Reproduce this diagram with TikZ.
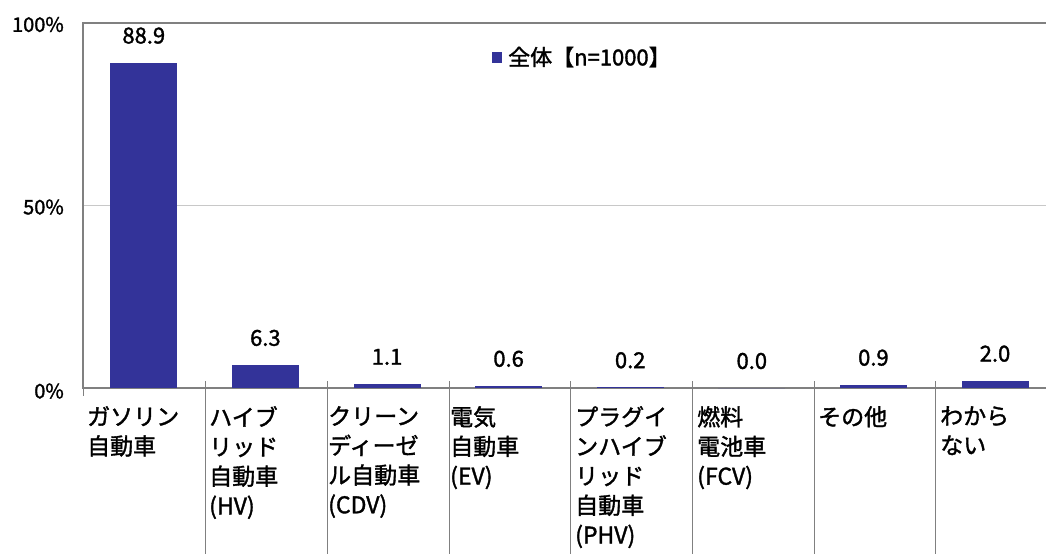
\documentclass[tikz,border=0pt]{standalone}
\usepackage{fontspec}
\setmainfont{Noto Sans CJK JP}[FakeBold=1.5]
\definecolor{barblue}{RGB}{51,51,153}
\definecolor{axisgray}{RGB}{128,128,128}
\definecolor{gridgray}{RGB}{200,200,200}
\begin{document}
\begin{tikzpicture}[x=1pt,y=-1pt,
  vallabel/.style={font=\fontsize{22}{24}\selectfont, inner sep=0pt, anchor=center},
  axlabel/.style={font=\fontsize{20}{22}\selectfont, inner sep=0pt, anchor=east},
  catlabel/.style={font=\fontsize{23}{29.5}\selectfont, inner sep=0pt, anchor=north west, align=left},
  divider/.style={draw=axisgray, line width=0.7pt},
  frame/.style={draw=axisgray, line width=1.6pt}]
\useasboundingbox (0,0) rectangle (1046,554);
\fill[white] (0,0) rectangle (1046,554);
% gridline at 50%
\draw[gridgray, line width=1pt] (83,205) -- (1046,205);
% category dividers
\foreach \x in {205,327,449,570,692,814,935}
  \draw[divider] (\x,381) -- (\x,554);
\draw[divider] (83,388) -- (83,396);
% frame / axes
\draw[frame] (1046,23) -- (83,23) -- (83,388) -- (1046,388);
% bars and value labels
\foreach \i/\v in {0/88.9, 1/6.3, 2/1.1, 3/0.6, 4/0.2, 5/0.0, 6/0.9, 7/2.0} {
  \pgfmathsetmacro\cx{83+121.6*(\i+0.5)}
  \pgfmathsetmacro\bt{388-3.66*\v}
  \fill[barblue] (\cx-33.5,\bt) rectangle (\cx+33.5,388);
  \node[vallabel] (v\i) at (\cx,\bt-27) {\v};
}
% axis labels
\node[axlabel] (y100) at (64,24.5) {100\%};
\node[axlabel] (y50) at (64,207) {50\%};
\node[axlabel] (y0) at (64,391) {0\%};
% legend
\fill[barblue] (492,52) rectangle (502,63);
\node[font=\fontsize{22}{24}\selectfont, inner sep=0pt, anchor=west] (leg) at (508,57) {全体【n=1000】};
% category labels
\node[catlabel] (c0) at (87,406) {ガソリン\\自動車};
\node[catlabel] (c1) at (209,406) {ハイブ\\リッド\\自動車\\(HV)};
\node[catlabel] (c2) at (328,406) {クリーン\\ディーゼ\\ル自動車\\(CDV)};
\node[catlabel] (c3) at (450,406) {電気\\自動車\\(EV)};
\node[catlabel] (c4) at (575,406) {プラグイ\\ンハイブ\\リッド\\自動車\\(PHV)};
\node[catlabel] (c5) at (697,406) {燃料\\電池車\\(FCV)};
\node[catlabel] (c6) at (818,406) {その他};
\node[catlabel] (c7) at (940,406) {わから\\ない};
\end{tikzpicture}
\end{document}
